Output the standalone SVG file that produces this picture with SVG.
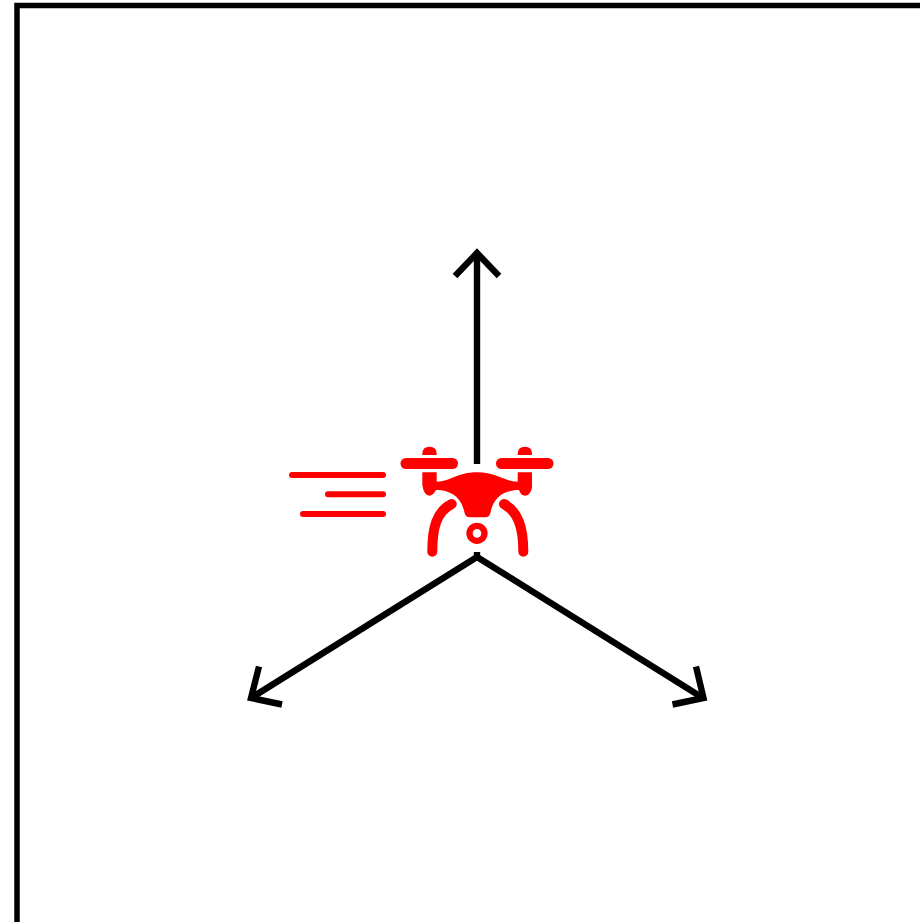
<svg xmlns="http://www.w3.org/2000/svg" width="920" height="922" viewBox="0 0 920 922">
  <style>
    .k { fill: none; stroke: #000; stroke-width: 6.4; }
    .s { fill: none; stroke: #f00; stroke-width: 6; stroke-linecap: round; }
    .b { fill: none; stroke: #f00; stroke-width: 11; stroke-linecap: round; }
    .l { fill: none; stroke: #f00; stroke-width: 10; stroke-linecap: round; }
    .f { fill: #f00; }
  </style>
  <rect width="920" height="922" fill="#fff"/>
  <path id="frame" d="M17,922 V5.5 H920" fill="none" stroke="#000" stroke-width="5.5"/>
  <g id="connectors">
    <path class="k" d="M477,464 V253"/>
    <path class="k" d="M455,276 L477,253 L499,276"/>
    <path class="k" d="M477,552 V557"/>
    <path class="k" d="M477,557 L251,698"/>
    <path class="k" d="M259,666.500 L251,698 L282,704.500"/>
    <path class="k" d="M477,557 L703,698"/>
    <path class="k" d="M696,666.500 L703.500,698 L672.500,704.500"/>
  </g>
  <g id="speed-lines">
    <path class="s" d="M292,475 H383"/>
    <path class="s" d="M328,494.3 H383"/>
    <path class="s" d="M303,514 H383"/>
  </g>
  <g id="drone">
    <path class="b" d="M406,463.5 H452.5"/>
    <path class="b" d="M501.5,463.5 H548"/>
    <path class="f" d="M422.3,455 V454 Q422.3,446.7 429.5,446.7 Q436.7,446.7 436.7,454 V455 Z"/>
    <path class="f" d="M517.7,455 V454 Q517.7,446.7 525,446.7 Q532,446.7 532,454 V455 Z"/>
    <path class="f" d="M422.3,472.3 H436.7 V481.7 C450,481.7 457,472.3 477,472.3 C497,472.3 504,481.7 517.7,481.7 V472.3 H532 V488 Q530,495.7 525,495.7 Q520.7,495.7 519,490 C506,490 494,496 490.7,511.7 Q490,517.3 485,517.3 H470 Q465,517.3 464.3,511.7 C461,496 449,490 436,490 Q433,495.7 429.5,495.7 Q424,495.7 422.3,485 Z"/>
    <path class="l" d="M451.7,504 C436.7,511.7 432.3,527 432.3,551.7"/>
    <path class="l" d="M504,504 C518,511.7 523.3,527 523.3,551.7"/>
    <circle cx="477" cy="533.3" r="7.5" fill="none" stroke="#f00" stroke-width="6.3"/>
  </g>
</svg>
